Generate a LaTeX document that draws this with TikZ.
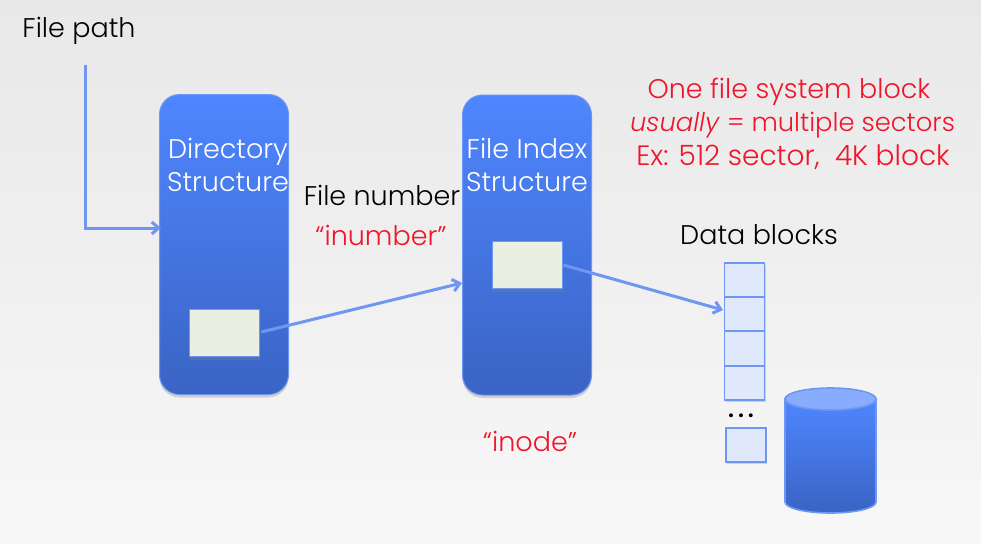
\documentclass[tikz,border=0pt]{standalone}
\usepackage{fontspec}
\setmainfont{Poppins Light}[ItalicFont={Poppins Light Italic}]
\usetikzlibrary{arrows.meta,shadows}
\definecolor{linkblue}{HTML}{6F96F0}
\definecolor{topblue}{HTML}{4F86FF}
\definecolor{lowblue}{HTML}{3A64C4}
\definecolor{slotgreen}{HTML}{E9F0E1}
\definecolor{cellblue}{HTML}{E0E8FC}
\definecolor{alertred}{HTML}{F0152A}
\tikzset{
	structbox/.style={rectangle, rounded corners=20pt, draw=linkblue, line width=1pt, top color=topblue, bottom color=lowblue,
		minimum width=129pt, minimum height=300pt, inner sep=0pt, drop shadow={shadow xshift=0pt, shadow yshift=-3pt, opacity=0.3}},
	slotbox/.style={rectangle, draw=linkblue, line width=1.6pt, fill=slotgreen, minimum width=70pt, minimum height=47pt,
		inner sep=0pt, drop shadow={shadow xshift=0pt, shadow yshift=-3pt, opacity=0.4}},
	cellbox/.style={rectangle, draw=linkblue, line width=1.8pt, fill=cellblue, minimum width=40pt, minimum height=34.3pt,
		inner sep=0pt, drop shadow={shadow xshift=1pt, shadow yshift=-2pt, opacity=0.3}},
	link/.style={draw=linkblue, line width=3pt, -{Straight Barb[length=7pt,width=12pt]}},
	lbl/.style={font=\fontsize{27}{33}\selectfont, inner sep=0pt, align=center},
	wlbl/.style={lbl, text=white},
	rlbl/.style={lbl, text=alertred}
}
\begin{document}
\begin{tikzpicture}[x=1pt,y=-1pt]
	\shade[top color=black!9, bottom color=black!3] (0,0) rectangle (981,543);
	\useasboundingbox (0,0) rectangle (981,543);
	%-----structures
	\node[structbox] (dir) at (224,244.5) {};
	\node[structbox] (idx) at (527,245) {};
	\node[wlbl] (dirtxt) at (228,165) {Directory\\Structure};
	\node[wlbl] (idxtxt) at (527,165) {File Index\\Structure};
	\node[slotbox] (dirslot) at (224.5,333) {};
	\node[slotbox] (idxslot) at (527.5,265) {};
	%-----data blocks
	\node[cellbox] (c1) at (744.5,280) {};
	\node[cellbox] (c2) at (744.5,314.3) {};
	\node[cellbox] (c3) at (744.5,348.5) {};
	\node[cellbox] (c4) at (744.5,383) {};
	\node[cellbox] (c5) at (746,445) {};
	\node[lbl, font=\fontsize{23}{33}\selectfont] (dots) at (741,416) {\textbf{.\,.\,.}};
	%-----disk
	\shade[top color=topblue, bottom color=lowblue, draw=linkblue, line width=1.6pt] (785,399) -- (785,502)
		arc[start angle=180, end angle=360, x radius=45.5, y radius=-11] -- (876,399) -- cycle;
	\draw[draw=linkblue, line width=1.6pt, fill=topblue!60!cellblue] (830.5,399) ellipse [x radius=45.5, y radius=11];
	%-----texts
	\node[lbl] (path) at (79,31) {File path};
	\node[lbl] (fnum) at (382,195) {File number};
	\node[rlbl] (inum) at (381,235) {“inumber”};
	\node[rlbl] (inode) at (530,441) {“inode”};
	\node[lbl] (dblk) at (759,235) {Data blocks};
	\node[rlbl] (note1) at (789,92) {One file system block};
	\node[rlbl, font=\fontsize{25.8}{33}\selectfont] (note2) at (792.5,125) {\textit{usually} = multiple sectors};
	\node[rlbl, font=\fontsize{28}{33}\selectfont] (note3) at (793,157) {Ex: 512 sector,~ 4K block};
	%-----links
	\coordinate (start) at (85,65);
	\coordinate (dirin) at (161,228);
	\coordinate (idxin) at (462,283);
	\coordinate (cellin) at (723,310);
	\draw[link] (start) |- (dirin);
	\draw[link] (dirslot.east) ++(1,-1) -- (idxin);
	\draw[link] (idxslot.east) -- (cellin);
\end{tikzpicture}
\end{document}
